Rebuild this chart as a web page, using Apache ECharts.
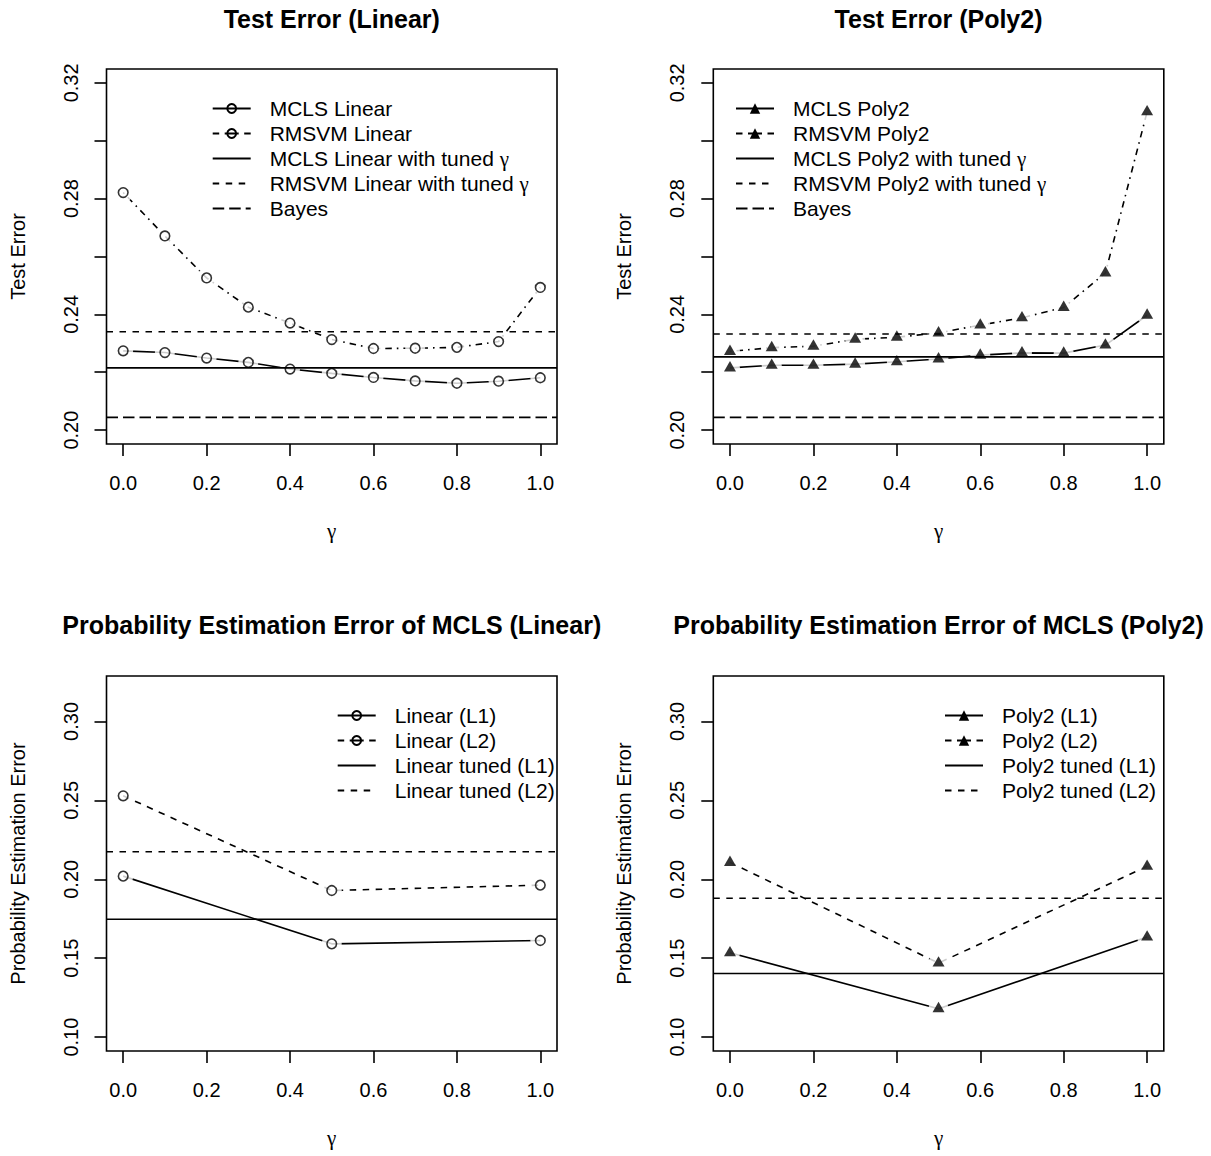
<!DOCTYPE html>
<html>
<head>
<meta charset="utf-8">
<script src="https://cdn.jsdelivr.net/npm/echarts@6/dist/echarts.min.js"></script>
<style>
html,body{margin:0;padding:0;background:#fff;}
#chart{width:1211px;height:1156px;}
</style>
</head>
<body>
<div id="chart"></div>
<script>
// ---------------- data ----------------
const gammaFine = [0, 0.1, 0.2, 0.3, 0.4, 0.5, 0.6, 0.7, 0.8, 0.9, 1.0];
const gammaCoarse = [0, 0.5, 1.0];

const mclsLinear  = [0.2274, 0.2268, 0.2249, 0.2234, 0.2211, 0.2196, 0.2182, 0.2170, 0.2162, 0.2169, 0.2181];
const rmsvmLinear = [0.2821, 0.2671, 0.2526, 0.2425, 0.2370, 0.2313, 0.2282, 0.2283, 0.2286, 0.2306, 0.2493];
const mclsLinearTuned = 0.2215;
const rmsvmLinearTuned = 0.2340;

const mclsPoly2  = [0.2215, 0.2224, 0.2224, 0.2228, 0.2236, 0.2246, 0.2259, 0.2267, 0.2266, 0.2294, 0.2397];
const rmsvmPoly2 = [0.2272, 0.2285, 0.2290, 0.2314, 0.2321, 0.2336, 0.2363, 0.2388, 0.2424, 0.2543, 0.3100];
const mclsPoly2Tuned = 0.2253;
const rmsvmPoly2Tuned = 0.2332;

const bayesError = 0.2044;

const probLinearL1 = [0.2020, 0.1591, 0.1612];
const probLinearL2 = [0.2529, 0.1929, 0.1963];
const probLinearTunedL1 = 0.1747;
const probLinearTunedL2 = 0.2174;

const probPoly2L1 = [0.1534, 0.1180, 0.1634];
const probPoly2L2 = [0.2107, 0.1469, 0.2082];
const probPoly2TunedL1 = 0.1403;
const probPoly2TunedL2 = 0.1880;

const xTicks = [0, 0.2, 0.4, 0.6, 0.8, 1.0];
const yTicksTop = [0.20, 0.22, 0.24, 0.26, 0.28, 0.30, 0.32];
const yLabelsTop = [0.20, 0.24, 0.28, 0.32];
const yTicksBottom = [0.10, 0.15, 0.20, 0.25, 0.30];

const titles = ['Test Error (Linear)', 'Test Error (Poly2)',
  'Probability Estimation Error of MCLS (Linear)', 'Probability Estimation Error of MCLS (Poly2)'];
const yNames = ['Test Error', 'Test Error', 'Probability Estimation Error', 'Probability Estimation Error'];

// ---------------- styling / layout ----------------
const FONT = 'Liberation Sans, Arial, sans-serif';
const SERIF = 'Liberation Serif, Times New Roman, serif';
const LW = 1.6;
const DASHED = [6.5, 6.5];
const DOTDASH = [1.6, 5, 6.5, 5];
const LONGDASH = [11.5, 5];
const LEGEND_BROKEN = [6.5, 5.5, 14, 5.5, 6.5, 50];
const GAP = 20;

const grids = [
  {left: 106.5, top: 69, width: 450.5, height: 375},
  {left: 713.3, top: 69, width: 450.5, height: 375},
  {left: 106.5, top: 676, width: 450.5, height: 375},
  {left: 713.3, top: 676, width: 450.5, height: 375}
];
const yRanges = [[0.1952, 0.3248], [0.1952, 0.3248], [0.0912, 0.3288], [0.0912, 0.3288]];
const xRange = [-0.04, 1.04];

function pairs(xs, ys) { return xs.map((x, i) => [x, ys[i]]); }
function hline(v) { return [[xRange[0], v], [xRange[1], v]]; }

const series = [];
function dataSeries(g, name, xs, ys, lineType, sym) {
  const isTri = sym === 'triangle';
  const symSize = isTri ? [12, 10.4] : 9.6;
  const itemStyle = isTri ? {color: '#000', borderWidth: 0}
                          : {color: '#fff', borderColor: '#000', borderWidth: LW};
  series.push({
    name: name, type: 'line', xAxisIndex: g, yAxisIndex: g, z: 2,
    data: pairs(xs, ys), showSymbol: false, symbol: sym, symbolSize: symSize,
    itemStyle: itemStyle,
    lineStyle: {color: '#000', width: LW, type: lineType},
    silent: true, animation: false
  });
  series.push({
    type: 'scatter', xAxisIndex: g, yAxisIndex: g, z: 3, silent: true,
    data: pairs(xs, ys), symbol: 'circle', symbolSize: GAP,
    itemStyle: {color: '#fff'}, animation: false
  });
  series.push({
    type: 'scatter', xAxisIndex: g, yAxisIndex: g, z: 5, silent: true,
    data: pairs(xs, ys), symbol: sym, symbolSize: symSize,
    symbolOffset: isTri ? [0, -1.7] : [0, 0],
    itemStyle: isTri ? {color: '#000'} : {color: 'rgba(0,0,0,0)', borderColor: '#000', borderWidth: LW},
    animation: false
  });
}
function refLine(g, name, v, lineType) {
  series.push({
    name: name, type: 'line', xAxisIndex: g, yAxisIndex: g, z: 4,
    data: hline(v), showSymbol: false, symbol: 'none',
    lineStyle: {color: '#000', width: LW, type: lineType},
    itemStyle: {color: '#000'},
    silent: true, animation: false
  });
}

dataSeries(0, 'MCLS Linear', gammaFine, mclsLinear, 'solid', 'circle');
dataSeries(0, 'RMSVM Linear', gammaFine, rmsvmLinear, DOTDASH, 'circle');
refLine(0, 'MCLS Linear with tuned γ', mclsLinearTuned, 'solid');
refLine(0, 'RMSVM Linear with tuned γ', rmsvmLinearTuned, DASHED);
refLine(0, 'Bayes', bayesError, LONGDASH);

dataSeries(1, 'MCLS Poly2', gammaFine, mclsPoly2, 'solid', 'triangle');
dataSeries(1, 'RMSVM Poly2', gammaFine, rmsvmPoly2, DOTDASH, 'triangle');
refLine(1, 'MCLS Poly2 with tuned γ', mclsPoly2Tuned, 'solid');
refLine(1, 'RMSVM Poly2 with tuned γ', rmsvmPoly2Tuned, DASHED);
refLine(1, 'Bayes', bayesError, LONGDASH);

dataSeries(2, 'Linear (L1)', gammaCoarse, probLinearL1, 'solid', 'circle');
dataSeries(2, 'Linear (L2)', gammaCoarse, probLinearL2, DASHED, 'circle');
refLine(2, 'Linear tuned (L1)', probLinearTunedL1, 'solid');
refLine(2, 'Linear tuned (L2)', probLinearTunedL2, DASHED);

dataSeries(3, 'Poly2 (L1)', gammaCoarse, probPoly2L1, 'solid', 'triangle');
dataSeries(3, 'Poly2 (L2)', gammaCoarse, probPoly2L2, DASHED, 'triangle');
refLine(3, 'Poly2 tuned (L1)', probPoly2TunedL1, 'solid');
refLine(3, 'Poly2 tuned (L2)', probPoly2TunedL2, DASHED);

const hidden = {color: 'rgba(0,0,0,0)', borderColor: 'rgba(0,0,0,0)', borderWidth: 0};
const hollow = {color: 'rgba(0,0,0,0)'};
function legendData(solidName, brokenName, lineNames, hollowSym) {
  const first = {name: solidName};
  const second = {name: brokenName, lineStyle: {type: LEGEND_BROKEN}};
  if (hollowSym) { first.itemStyle = hollow; second.itemStyle = hollow; }
  return [first, second].concat(lineNames.map(n => ({name: n, itemStyle: hidden})));
}
function legend(left, top, itemHeight, data) {
  return {
    orient: 'vertical', left: left, top: top, padding: 0, itemGap: 0,
    itemWidth: 38, itemHeight: itemHeight, selectedMode: false,
    data: data,
    formatter: n => n.replace('γ', '{g|γ}'),
    textStyle: {fontFamily: FONT, fontSize: 21, color: '#000', lineHeight: 25, padding: [0, 0, 0, 14],
      rich: {g: {fontFamily: SERIF, fontSize: 21, color: '#000'}}}
  };
}

const option = {
  backgroundColor: '#fff',
  animation: false,
  title: titles.map((t, i) => ({
    text: t, left: grids[i].left + grids[i].width / 2, textAlign: 'center',
    top: i < 2 ? 6 : 612, padding: 0,
    textStyle: {fontFamily: FONT, fontSize: 25, fontWeight: 'bold', color: '#000'}
  })),
  legend: [
    legend(211.7, 96, 11, legendData('MCLS Linear', 'RMSVM Linear',
      ['MCLS Linear with tuned γ', 'RMSVM Linear with tuned γ', 'Bayes'], true)),
    legend(735, 96, 13, legendData('MCLS Poly2', 'RMSVM Poly2',
      ['MCLS Poly2 with tuned γ', 'RMSVM Poly2 with tuned γ', 'Bayes'], false)),
    legend(336.7, 703, 11, legendData('Linear (L1)', 'Linear (L2)',
      ['Linear tuned (L1)', 'Linear tuned (L2)'], true)),
    legend(944, 703, 13, legendData('Poly2 (L1)', 'Poly2 (L2)',
      ['Poly2 tuned (L1)', 'Poly2 tuned (L2)'], false))
  ],
  grid: grids.map(g => Object.assign({show: true, borderColor: '#000', borderWidth: LW,
    backgroundColor: 'rgba(0,0,0,0)', containLabel: false, outerBoundsMode: 'none'}, g)),
  xAxis: grids.map((g, i) => ({
    type: 'value', gridIndex: i, min: xRange[0], max: xRange[1], position: 'bottom',
    axisLine: {show: false, onZero: false},
    axisTick: {show: true, length: 12, lineStyle: {color: '#000', width: LW}, customValues: xTicks},
    axisLabel: {show: true, customValues: xTicks, formatter: v => v.toFixed(1), margin: 29,
      fontFamily: FONT, fontSize: 20, color: '#000'},
    splitLine: {show: false},
    name: 'γ', nameLocation: 'middle', nameGap: 76,
    nameTextStyle: {fontFamily: SERIF, fontSize: 21, color: '#000'}
  })),
  yAxis: grids.map((g, i) => ({
    type: 'value', gridIndex: i, min: yRanges[i][0], max: yRanges[i][1], position: 'left',
    axisLine: {show: false, onZero: false},
    axisTick: {show: true, length: 12, lineStyle: {color: '#000', width: LW},
      customValues: i < 2 ? yTicksTop : yTicksBottom},
    axisLabel: {show: true, customValues: i < 2 ? yLabelsTop : yTicksBottom, rotate: 90,
      formatter: v => v.toFixed(2), margin: 26, fontFamily: FONT, fontSize: 20, color: '#000'},
    splitLine: {show: false},
    name: yNames[i], nameLocation: 'middle', nameGap: 79,
    nameTextStyle: {fontFamily: FONT, fontSize: 20, color: '#000'}
  })),
  series: series
};

const chart = echarts.init(document.getElementById('chart'), null, {renderer: 'svg'});
chart.setOption(option);
</script>
</body>
</html>
